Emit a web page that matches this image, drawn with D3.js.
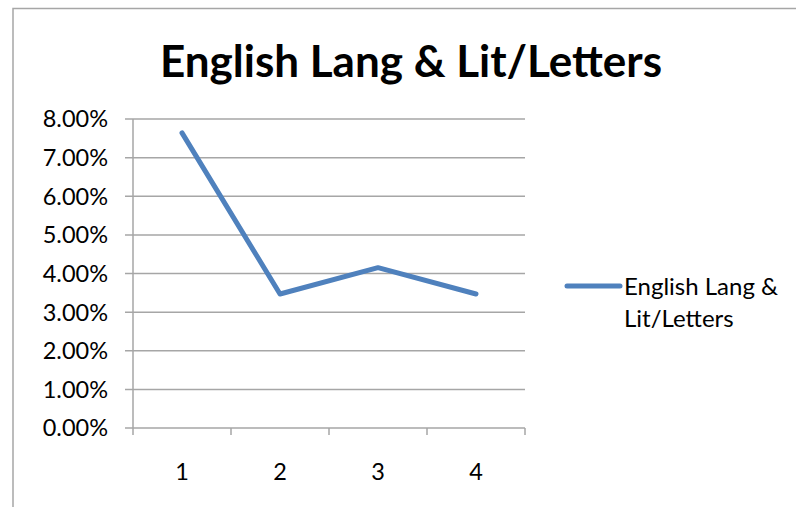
<!DOCTYPE html>
<html>
<head>
<meta charset="utf-8">
<script src="https://cdn.jsdelivr.net/npm/d3@7"></script>
<style>
  body { margin: 0; background: #fff; }
  svg text { font-family: Lato, "Open Sans", sans-serif; fill: #000; }
</style>
</head>
<body>
<div id="visualization"></div>
<script>
// chart data
const title = "English Lang & Lit/Letters";
const categories = ["1", "2", "3", "4"];
const values = [0.0764, 0.0347, 0.0415, 0.0347];
const yTicks = [0, 0.01, 0.02, 0.03, 0.04, 0.05, 0.06, 0.07, 0.08];
const legendLines = ["English Lang &", "Lit/Letters"];

const W = 796, H = 507;
const svg = d3.select("#visualization")
    .append("svg")
    .attr("width", W)
    .attr("height", H);

// outer frame (cropped at right / bottom)
svg.append("path")
    .attr("d", `M13,${H + 2} V8.5 H${W + 2}`)
    .attr("fill", "none")
    .attr("stroke", "#a6a6a6")
    .attr("stroke-width", 1.5);

const plot = { left: 133, right: 525, top: 119, bottom: 428 };

const xScale = d3.scaleBand()
    .domain(categories)
    .range([plot.left, plot.right]);

const yScale = d3.scaleLinear()
    .domain([0, 0.08])
    .range([plot.bottom, plot.top]);

// gridlines + y ticks
svg.append("g")
    .selectAll("line")
    .data(yTicks)
    .enter().append("line")
    .attr("x1", plot.left - 8)
    .attr("x2", plot.right)
    .attr("y1", d => yScale(d))
    .attr("y2", d => yScale(d))
    .attr("stroke", "#a6a6a6")
    .attr("stroke-width", 1.5);

// y axis line
svg.append("line")
    .attr("x1", plot.left).attr("x2", plot.left)
    .attr("y1", plot.top).attr("y2", plot.bottom + 7)
    .attr("stroke", "#a6a6a6")
    .attr("stroke-width", 1.5);

// x tick marks at band edges
const edges = categories.map(c => xScale(c)).concat([plot.right]);
svg.append("g")
    .selectAll("line")
    .data(edges.slice(1))
    .enter().append("line")
    .attr("x1", d => d).attr("x2", d => d)
    .attr("y1", plot.bottom).attr("y2", plot.bottom + 7)
    .attr("stroke", "#a6a6a6")
    .attr("stroke-width", 1.5);

// y labels
svg.append("g")
    .selectAll("text")
    .data(yTicks)
    .enter().append("text")
    .attr("x", plot.left - 25)
    .attr("y", d => yScale(d))
    .attr("dy", "0.36em")
    .attr("text-anchor", "end")
    .style("font-size", "23.5px")
    .text(d => d3.format(".2%")(d));

// x labels
svg.append("g")
    .selectAll("text")
    .data(categories)
    .enter().append("text")
    .attr("x", d => xScale(d) + xScale.bandwidth() / 2)
    .attr("y", 480)
    .attr("text-anchor", "middle")
    .style("font-size", "23.5px")
    .text(d => d);

// series line
const line = d3.line()
    .x((d, i) => xScale(categories[i]) + xScale.bandwidth() / 2)
    .y(d => yScale(d));

svg.append("path")
    .datum(values)
    .attr("d", line)
    .attr("fill", "none")
    .attr("stroke", "#4f81bd")
    .attr("stroke-width", 5)
    .attr("stroke-linecap", "round")
    .attr("stroke-linejoin", "round");

// title
svg.append("text")
    .attr("x", 411)
    .attr("y", 77)
    .attr("text-anchor", "middle")
    .style("font-size", "44px")
    .style("font-weight", "bold")
    .text(title);

// legend
svg.append("line")
    .attr("x1", 567).attr("x2", 620)
    .attr("y1", 286).attr("y2", 286)
    .attr("stroke", "#4f81bd")
    .attr("stroke-width", 5)
    .attr("stroke-linecap", "round");

svg.append("g")
    .selectAll("text")
    .data(legendLines)
    .enter().append("text")
    .attr("x", 624)
    .attr("y", (d, i) => 295 + i * 32)
    .style("font-size", "24px")
    .text(d => d);
</script>
</body>
</html>
